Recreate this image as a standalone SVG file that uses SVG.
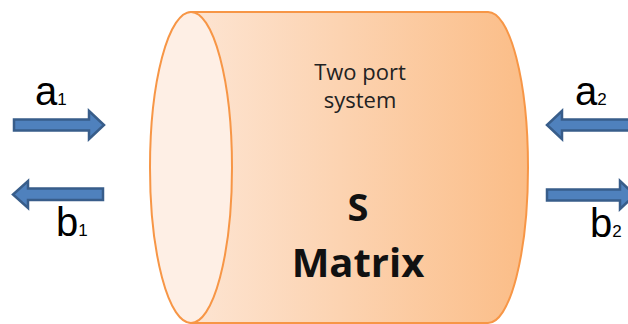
<svg xmlns="http://www.w3.org/2000/svg" width="628" height="324" viewBox="0 0 628 324">
<defs>
<linearGradient id="body" x1="0" y1="0" x2="1" y2="0">
<stop offset="0" stop-color="#fde9db"/>
<stop offset="1" stop-color="#fbbd87"/>
</linearGradient>
<style>
.arrow{fill:#4f81bd;stroke:#385d8a;stroke-width:2.5;stroke-linejoin:miter}
.lbl{font-family:"Liberation Sans",Arial,sans-serif;font-size:40px;fill:#000}
.sub{font-size:17px}
.t{font-family:"Open Sans","Liberation Sans",sans-serif;font-size:22px;fill:#222;text-anchor:middle}
.b{font-family:"Open Sans","Liberation Sans",sans-serif;font-weight:bold;fill:#111;text-anchor:middle}
</style>
</defs>
<g id="cylinder">
<path d="M192,12 L488,12 A40,155.5 0 0 1 488,323 L192,323 A40,155.5 0 0 1 192,12 Z" fill="url(#body)" stroke="#f79646" stroke-width="2"/>
<ellipse cx="191" cy="167.5" rx="41" ry="155.5" fill="#feefe5" stroke="#f79646" stroke-width="2"/>
<text class="t" x="360" y="80">Two port</text>
<text class="t" x="360" y="108">system</text>
<text class="b" x="358" y="221" font-size="38">S</text>
<text class="b" x="358" y="277" font-size="40">Matrix</text>
</g>
<g id="connectors">
<path class="arrow" d="M14,119.5 L89,119.5 L89,111 L104,125 L89,139 L89,130.5 L14,130.5 Z"/>
<path class="arrow" d="M103,188.5 L28,188.5 L28,181 L13,194.5 L28,208 L28,200 L103,200 Z"/>
<path class="arrow" d="M640,119.5 L562,119.5 L562,111 L547,125 L562,139 L562,130.5 L640,130.5 Z"/>
<path class="arrow" d="M547,189.5 L620,189.5 L620,181 L635,195 L620,209 L620,200.5 L547,200.5 Z"/>
</g>
<g id="labels">
<text class="lbl" x="35" y="105">a<tspan class="sub">1</tspan></text>
<text class="lbl" x="56" y="236">b<tspan class="sub">1</tspan></text>
<text class="lbl" x="575" y="105">a<tspan class="sub">2</tspan></text>
<text class="lbl" x="590" y="237">b<tspan class="sub">2</tspan></text>
</g>
</svg>
